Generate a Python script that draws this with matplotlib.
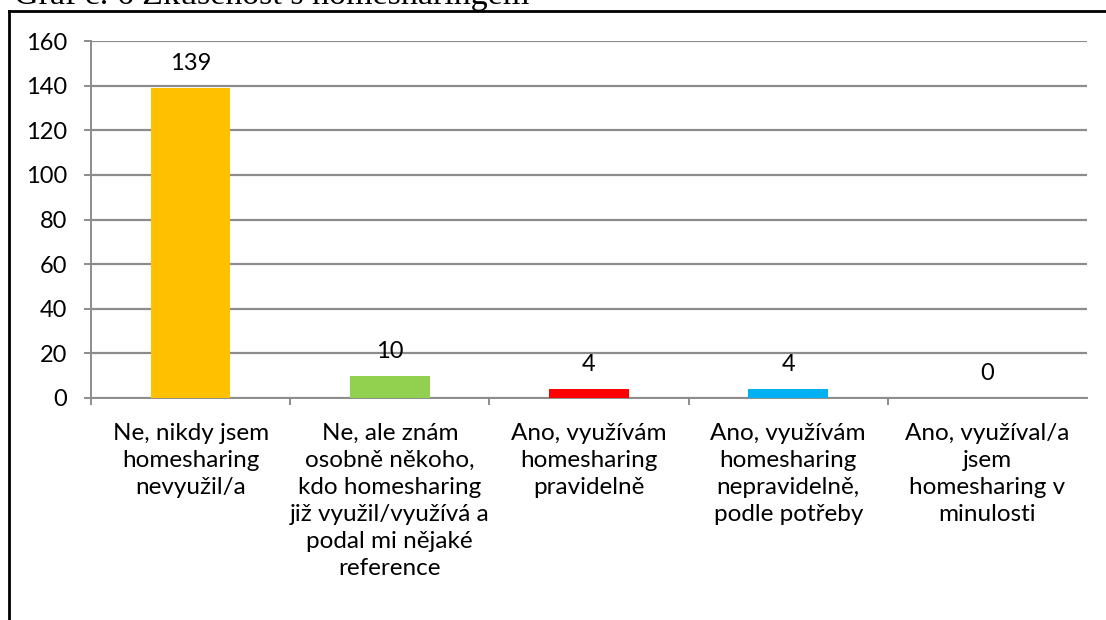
import matplotlib
matplotlib.use("Agg")
import matplotlib.pyplot as plt
from matplotlib.lines import Line2D

categories = [
    "Ne, nikdy jsem\nhomesharing\nnevyužil/a",
    "Ne, ale znám\nosobně někoho,\nkdo homesharing\njiž využil/využívá a\npodal mi nějaké\nreference",
    "Ano, využívám\nhomesharing\npravidelně",
    "Ano, využívám\nhomesharing\nnepravidelně,\npodle potřeby",
    "Ano, využíval/a\njsem\nhomesharing v\nminulosti",
]
values = [139, 10, 4, 4, 0]
colors = ["#FFC000", "#92D050", "#FF0000", "#00B0F0", "#7F7F7F"]
yticks = [0, 20, 40, 60, 80, 100, 120, 140, 160]
title = "Graf č. 6 Zkušenost s homesharingem"

plt.rcParams['font.family'] = ['Lato', 'DejaVu Sans']
W, H = 1106, 620
fig = plt.figure(figsize=(W/100, H/100), dpi=100)
ax = fig.add_axes([91/W, 1-398/H, (1087-91)/W, (398-41)/H])

x = list(range(len(values)))
ax.bar(x, values, width=0.4, color=colors, zorder=3)
for xi, v in zip(x, values):
    ax.annotate(str(v), (xi, v), xytext=(0, 10), textcoords='offset points',
                ha='center', va='bottom', fontsize=17, color='black')

ax.set_xlim(-0.5, len(values)-0.5)
ax.set_ylim(0, 160)
ax.set_yticks(yticks)
ax.set_yticklabels([str(t) for t in yticks], fontsize=17)
ax.yaxis.grid(True, color='#8C8C8C', linewidth=1.6, zorder=0)
ax.set_xticks([i + 0.5 for i in x[:-1]] + [-0.5])
ax.set_xticklabels([])
ax.tick_params(axis='x', length=5, width=1.4, color='#8C8C8C', direction='out')
ax.tick_params(axis='y', length=5, width=1.4, color='#8C8C8C', direction='out', pad=12)
for xi, lab in zip(x, categories):
    ax.text(xi, -11, lab, ha='center', va='top', fontsize=17.5, linespacing=1.36,
            transform=ax.transData)
for s in ['top', 'right']:
    ax.spines[s].set_visible(False)
for s in ['left', 'bottom']:
    ax.spines[s].set_color('#8C8C8C')
    ax.spines[s].set_linewidth(1.4)

# outer frame (cropped screenshot style)
fig.add_artist(Line2D([9/W, 9/W], [0, 1-11/H], color='black', linewidth=2, transform=fig.transFigure))
fig.add_artist(Line2D([9/W, 1], [1-11/H, 1-11/H], color='black', linewidth=2, transform=fig.transFigure))
fig.text(14/W, 1-4/H, title, family='Liberation Serif', fontsize=24.5, ha='left', va='baseline')

fig.savefig("out.png", dpi=100)
